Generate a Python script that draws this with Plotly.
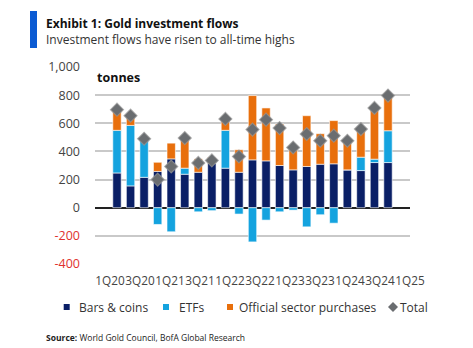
import plotly.graph_objects as go

quarters = ["1Q20", "2Q20", "3Q20", "4Q20", "1Q21", "2Q21", "3Q21", "4Q21",
            "1Q22", "2Q22", "3Q22", "4Q22", "1Q23", "2Q23", "3Q23", "4Q23",
            "1Q24", "2Q24", "3Q24", "4Q24", "1Q25"]
bars_coins = [247, 155, 216, 258, 347, 238, 252, 317, 281, 252, 340, 333,
              300, 269, 293, 309, 312, 269, 264, 321, 321]
etfs = [303, 430, 265, -119, -171, 43, -29, -21, 269, -45, -243, -88,
        -29, -17, -136, -50, -110, 0, 95, 24, 226]
official = [147, 69, 0, 65, 112, 221, 95, 40, 81, 160, 457, 376,
            295, 175, 361, 217, 307, 202, 196, 364, 250]
total = [697, 654, 490, 200, 293, 495, 318, 336, 631, 364, 555, 626,
         566, 428, 524, 476, 512, 476, 559, 709, 797]

y_ticks = [-400, -200, 0, 200, 400, 600, 800, 1000]
idx = list(range(len(quarters)))
x_tickvals = idx[::2]
x_ticktext = quarters[::2]

NAVY = "#0a1f66"
LBLUE = "#14a3df"
ORANGE = "#e86f0c"
GRAY = "#6a6d70"
FONT = "Open Sans"

W, H = 473, 348
L, R, T, B = 95, 63, 67, 84
PW, PH = W - L - R, H - T - B


def px(x):
    return (x - L) / PW


def py(y):
    return (H - B - y) / PH


fig = go.Figure()
for name, vals, col in [("Bars & coins", bars_coins, NAVY),
                        ("ETFs", etfs, LBLUE),
                        ("Official sector purchases", official, ORANGE)]:
    fig.add_trace(go.Bar(x=quarters, y=vals, name=name, marker_color=col,
                         marker_line_color="white", marker_line_width=0.6,
                         showlegend=False))
fig.add_trace(go.Scatter(x=quarters, y=total, name="Total", mode="markers",
                         marker=dict(symbol="diamond", size=10, color=GRAY,
                                     line=dict(color="rgba(150,150,150,0.7)", width=1.2)),
                         showlegend=False))
# carrier for the label axis (draws nothing)
fig.add_trace(go.Scatter(x=idx, y=[None] * len(idx), xaxis="x2", mode="markers",
                         showlegend=False, hoverinfo="skip"))

ticktext = [(f'<span style="color:#e0312e">{v:,}</span>' if v < 0 else f"{v:,}")
            for v in y_ticks]

fig.update_layout(
    width=W, height=H, margin=dict(l=L, r=R, t=T, b=B),
    paper_bgcolor="white", plot_bgcolor="white",
    barmode="relative", bargap=0.38,
    font=dict(family=FONT, size=12, color="#444"),
    xaxis=dict(type="category", showticklabels=False,
               showgrid=False, showline=False, zeroline=False),
    xaxis2=dict(overlaying="x", anchor="y", side="bottom", type="linear",
                range=[-1.0, 20.001], tickvals=x_tickvals, ticktext=x_ticktext,
                tickangle=0, ticklabelstandoff=8,
                showgrid=False, showline=False, zeroline=False,
                tickfont=dict(size=11.8, color="#444")),
    yaxis=dict(range=[-400, 1000], tickvals=y_ticks, ticktext=ticktext,
               showgrid=True, gridcolor="#c9c9c9", gridwidth=1.5,
               zeroline=True, zerolinecolor="#222", zerolinewidth=1.5,
               ticklabelstandoff=14, tickfont=dict(size=12.5, color="#444")),
)

shapes = [dict(type="rect", xref="paper", yref="paper",
               x0=px(30), x1=px(37), y0=py(48), y1=py(11),
               fillcolor="#0b5bd3", line_width=0, layer="above")]
annotations = [
    dict(text="<b>Exhibit 1: Gold investment flows</b>", x=px(44), y=py(23),
         font=dict(size=12, color="#111")),
    dict(text="Investment flows have risen to all-time highs", x=px(44), y=py(39.5),
         font=dict(size=12, color="#333")),
    dict(text="<b>tonnes</b>", x=px(95), y=py(78), font=dict(size=12.5, color="#111")),
    dict(text="<b>Source:</b> World Gold Council, BofA Global Research", x=px(44), y=py(337),
         font=dict(size=8.5, color="#222")),
]

# legend
LY = 307
for cx, col, label, tx in [(66.7, NAVY, "Bars & coins", 77),
                           (166, LBLUE, "ETFs", 177),
                           (230, ORANGE, "Official sector purchases", 237)]:
    shapes.append(dict(type="rect", xref="paper", yref="paper",
                       x0=px(cx - 3), x1=px(cx + 3), y0=py(LY + 3), y1=py(LY - 3),
                       fillcolor=col, line_width=0))
    annotations.append(dict(text=label, x=px(tx), y=py(LY), font=dict(size=12, color="#333")))
dx, dy = 5, 5
path = (f"M{px(393 - dx)},{py(LY)} L{px(393)},{py(LY - dy)} "
        f"L{px(393 + dx)},{py(LY)} L{px(393)},{py(LY + dy)} Z")
shapes.append(dict(type="path", xref="paper", yref="paper", path=path,
                   fillcolor=GRAY, line_width=0))
annotations.append(dict(text="Total", x=px(398), y=py(LY), font=dict(size=12, color="#333")))

for a in annotations:
    a.update(xref="paper", yref="paper", xanchor="left", yanchor="middle", showarrow=False)

fig.update_layout(shapes=shapes, annotations=annotations)
fig.write_html("out.html")
